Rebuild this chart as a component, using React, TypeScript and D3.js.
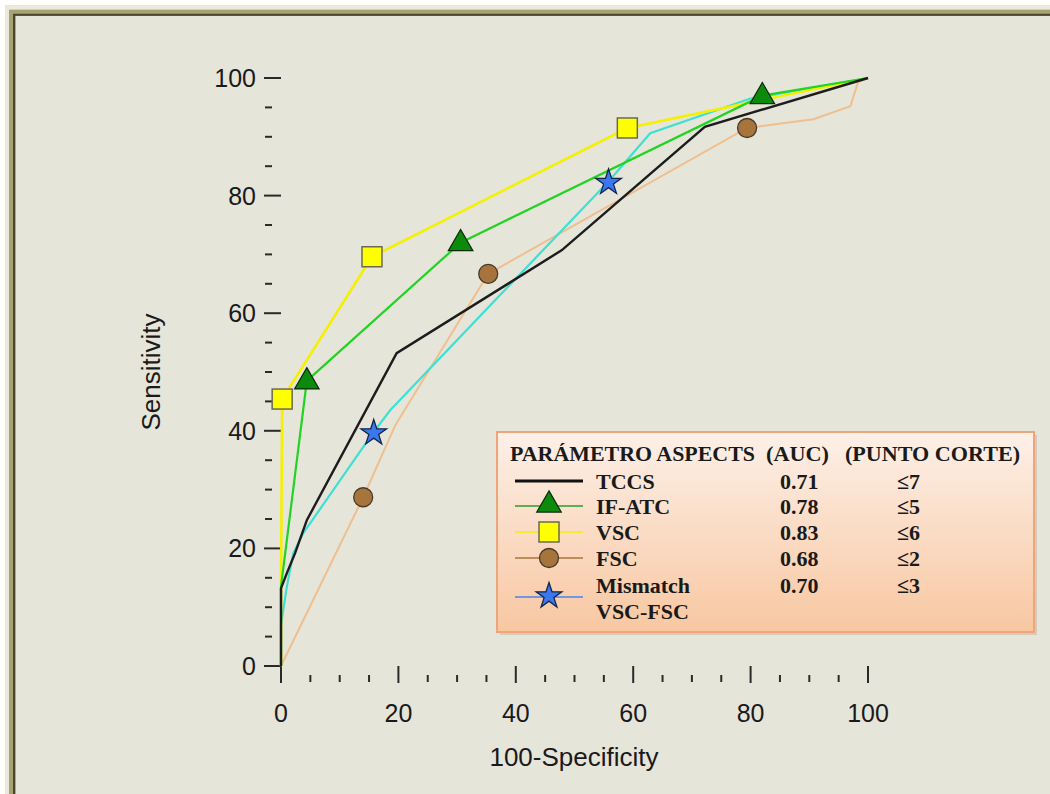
import React from 'react';
import * as d3 from 'd3';

type Pt = [number, number];

// ROC curves (100-specificity, sensitivity)
const tccs: Pt[] = [[0, 0], [0, 13.2], [1, 15.8], [2.4, 19.2], [4.4, 24.8], [19.7, 53.2], [47.8, 70.7], [72.2, 91.7], [100, 100]];
const ifAtc: Pt[] = [[0, 0], [0, 13.5], [4.4, 48.5], [30.6, 72], [82, 97], [100, 100]];
const ifAtcMarks: Pt[] = [[4.4, 48.5], [30.6, 72], [82, 97]];
const vsc: Pt[] = [[0, 0], [0, 13.5], [0.2, 45.4], [15.5, 69.6], [59, 91.5], [100, 100]];
const vscMarks: Pt[] = [[0.2, 45.4], [15.5, 69.6], [59, 91.5]];
const fsc: Pt[] = [[0, 0], [14, 28.7], [19.5, 41], [35.3, 66.7], [79.4, 91.5], [90.7, 93], [97, 95.2], [98.3, 99.3], [100, 100]];
const fscMarks: Pt[] = [[14, 28.7], [35.3, 66.7], [79.4, 91.5]];
const mismatch: Pt[] = [[0, 0], [0, 7], [1, 13.5], [2.1, 19.2], [3.8, 22.6], [15.8, 39.8], [18.6, 43.5], [55.8, 82.4], [62.9, 90.6], [80, 96.5], [100, 100]];
const mismatchMarks: Pt[] = [[15.8, 39.8], [55.8, 82.4]];

// legend table
const legendNames = ['TCCS', 'IF-ATC', 'VSC', 'FSC', 'Mismatch'];
const legendAuc = ['0.71', '0.78', '0.83', '0.68', '0.70'];
const legendCut = ['≤7', '≤5', '≤6', '≤2', '≤3'];

const xTicks = [0, 20, 40, 60, 80, 100];
const yTicks = [0, 20, 40, 60, 80, 100];

const x = d3.scaleLinear().domain([0, 100]).range([281, 868]);
const y = d3.scaleLinear().domain([0, 100]).range([666, 78]);

const line = d3.line<Pt>().x(d => x(d[0])).y(d => y(d[1]));

const triangle = d3.symbol().type(d3.symbolTriangle).size(260)()!;
const star = d3.symbol().type(d3.symbolStar).size(205)()!;

const C = {
  tccs: '#1c1c1c',
  ifLine: '#22d422',
  ifFill: '#0b8a0b',
  vscLine: '#f4f000',
  vscFill: '#ffff00',
  fscLine: '#efbf8f',
  fscFill: '#a8743e',
  misLine: '#3fe0d4',
  misFill: '#3b78f0',
};

const Tri = ({ cx, cy }: { cx: number; cy: number }) => (
  <path d={triangle} transform={`translate(${cx},${cy + 1})`} fill={C.ifFill} stroke="#0a2a0a" strokeWidth={1.2} />
);
const Sq = ({ cx, cy }: { cx: number; cy: number }) => (
  <rect x={cx - 10} y={cy - 10} width={20} height={20} fill={C.vscFill} stroke="#6a6a50" strokeWidth={1.5} />
);
const Circ = ({ cx, cy }: { cx: number; cy: number }) => (
  <circle cx={cx} cy={cy} r={9.5} fill={C.fscFill} stroke="#4a3a28" strokeWidth={1.3} />
);
const Star = ({ cx, cy }: { cx: number; cy: number }) => (
  <path d={star} transform={`translate(${cx},${cy + 1})`} fill={C.misFill} stroke="#15254a" strokeWidth={1.3} />
);

export default function App() {
  const minor = d3.range(0, 101, 5).filter(v => v % 20 !== 0);
  const rowY = [481, 506, 532, 558, 585];
  const sans = '"Liberation Sans", Arial, sans-serif';
  const serif = '"Liberation Serif", "Times New Roman", serif';

  return (
    <svg width={1050} height={794} style={{ position: 'absolute', left: 0, top: 0, background: '#fff' }}>
      <defs>
        <linearGradient id="lg" x1="0" y1="0" x2="0" y2="1">
          <stop offset="0" stopColor="#fdf0e8" />
          <stop offset="1" stopColor="#f8c7a1" />
        </linearGradient>
      </defs>

      {/* frame */}
      <rect x={7} y={7} width={1100} height={900} fill="none" stroke="#ebe9dc" strokeWidth={4} />
      <rect x={11} y={11.5} width={1100} height={900} fill="none" stroke="#a7a174" strokeWidth={4} />
      <rect x={14.2} y={14.7} width={1100} height={900} fill="#e6e5da" stroke="#48482f" strokeWidth={2.4} />

      {/* y ticks */}
      {yTicks.map(v => (
        <g key={'y' + v}>
          <line x1={264} x2={281} y1={y(v)} y2={y(v)} stroke="#2a2a2a" strokeWidth={2} />
          <text x={256} y={y(v) + 9} textAnchor="end" fontFamily={sans} fontSize={25} fill="#1a1a1a">{v}</text>
        </g>
      ))}
      {minor.map(v => (
        <line key={'ym' + v} x1={265} x2={272} y1={y(v)} y2={y(v)} stroke="#2a2a2a" strokeWidth={2} />
      ))}

      {/* x ticks */}
      {xTicks.map(v => (
        <g key={'x' + v}>
          <line x1={x(v)} x2={x(v)} y1={666} y2={683} stroke="#2a2a2a" strokeWidth={2} />
          <text x={x(v)} y={722} textAnchor="middle" fontFamily={sans} fontSize={25} fill="#1a1a1a">{v}</text>
        </g>
      ))}
      {minor.map(v => (
        <line key={'xm' + v} x1={x(v)} x2={x(v)} y1={675} y2={682} stroke="#2a2a2a" strokeWidth={2} />
      ))}

      <text x={574} y={766} textAnchor="middle" fontFamily={sans} fontSize={26} fill="#1a1a1a">100-Specificity</text>
      <text transform="translate(160,372) rotate(-90)" textAnchor="middle" fontFamily={sans} fontSize={26} fill="#1a1a1a">Sensitivity</text>

      {/* curves */}
      <path d={line(fsc)!} fill="none" stroke={C.fscLine} strokeWidth={2} />
      <path d={line(mismatch)!} fill="none" stroke={C.misLine} strokeWidth={2.2} />
      <path d={line(vsc)!} fill="none" stroke={C.vscLine} strokeWidth={2.6} />
      <path d={line(ifAtc)!} fill="none" stroke={C.ifLine} strokeWidth={2.2} />
      <path d={line(tccs)!} fill="none" stroke={C.tccs} strokeWidth={2.4} />

      {fscMarks.map((d, i) => <Circ key={'c' + i} cx={x(d[0])} cy={y(d[1])} />)}
      {vscMarks.map((d, i) => <Sq key={'s' + i} cx={x(d[0])} cy={y(d[1])} />)}
      {ifAtcMarks.map((d, i) => <Tri key={'t' + i} cx={x(d[0])} cy={y(d[1])} />)}
      {mismatchMarks.map((d, i) => <Star key={'st' + i} cx={x(d[0])} cy={y(d[1])} />)}

      {/* legend */}
      <rect x={500} y={435} width={537} height={200} fill="#c9b8a8" opacity={0.6} />
      <rect x={497} y={432} width={537} height={200} fill="url(#lg)" stroke="#eea57a" strokeWidth={2} />
      <g fontFamily={serif} fontWeight="bold" fontSize={22} fill="#1a1a1a">
        <text x={510} y={461} fontSize={21} textLength={245} lengthAdjust="spacingAndGlyphs">PARÁMETRO ASPECTS</text>
        <text x={766} y={461} fontSize={21} textLength={63} lengthAdjust="spacingAndGlyphs">(AUC)</text>
        <text x={845} y={461} fontSize={21} textLength={175} lengthAdjust="spacingAndGlyphs">(PUNTO CORTE)</text>
        {legendNames.map((n, i) => (
          <g key={n}>
            <text x={596} y={rowY[i] + 8}>{n}</text>
            <text x={780} y={rowY[i] + 8}>{legendAuc[i]}</text>
            <text x={897} y={rowY[i] + 8}>{legendCut[i]}</text>
          </g>
        ))}
        <text x={596} y={619}>VSC-FSC</text>
      </g>
      <line x1={515} x2={583} y1={481} y2={481} stroke="#111" strokeWidth={3} />
      <line x1={515} x2={583} y1={506} y2={506} stroke="#2a9e2a" strokeWidth={1.5} />
      <Tri cx={549} cy={504} />
      <line x1={515} x2={583} y1={532} y2={532} stroke="#f4f000" strokeWidth={1.5} />
      <Sq cx={549} cy={532} />
      <line x1={515} x2={583} y1={558} y2={558} stroke="#a8743e" strokeWidth={1.5} />
      <Circ cx={549} cy={558} />
      <line x1={515} x2={583} y1={597} y2={597} stroke="#4a80f0" strokeWidth={1.5} />
      <Star cx={549} cy={595} />
    </svg>
  );
}
